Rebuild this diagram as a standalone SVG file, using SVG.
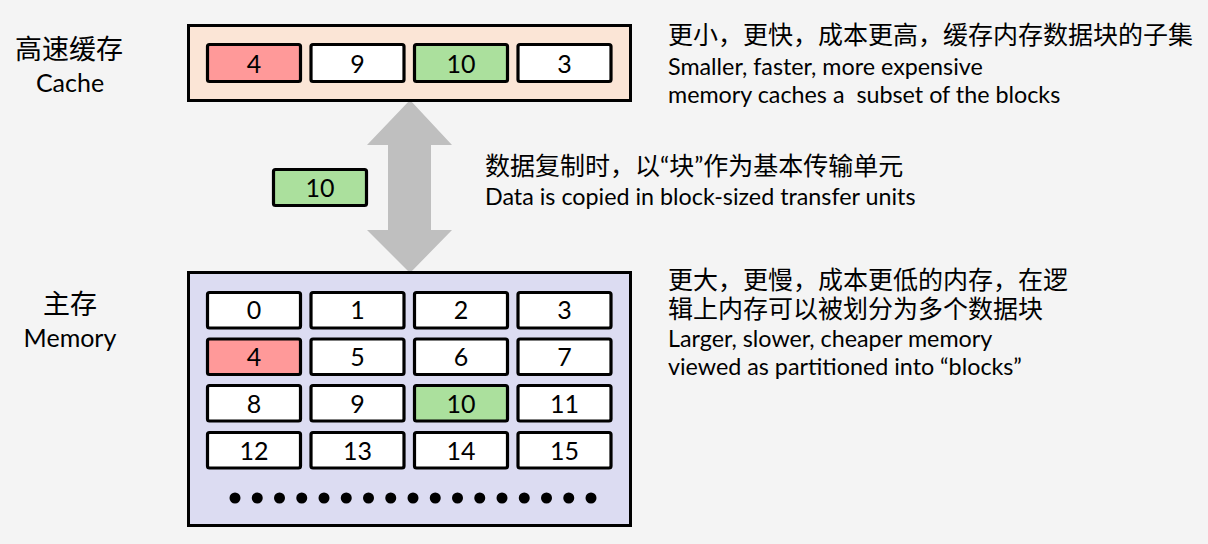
<svg xmlns="http://www.w3.org/2000/svg" width="1208" height="544" viewBox="0 0 1208 544">
<style>
text{font-family:Lato,"Noto Sans CJK SC",sans-serif;fill:#000}
.box{stroke:#000;stroke-width:3}
.cell{stroke:#000;stroke-width:3.2;fill:#fff}
.red{fill:#ff9999}
.green{fill:#abe09d}
.num{font-size:25px;text-anchor:middle}
.cjk{font-size:25px}
.en{font-size:23.3px}
.lab{font-size:27px}
.labe{font-size:25px;text-anchor:middle}
</style>
<rect width="1208" height="544" fill="#f4f4f4"/>
<g id="connectors">
<polygon points="410,100 452,145 431,145 431,230 452,230 410,273 367,230 388,230 388,145 367,145" fill="#bfbfbf"/>
</g>
<g id="cache">
<rect class="box" x="188.5" y="25.5" width="442" height="75" fill="#fbe5d6"/>
<rect class="cell red" x="207.5" y="44.5" width="93" height="37" rx="2"/>
<text class="num" x="254" y="73">4</text>
<rect class="cell" x="311" y="44.5" width="93" height="37" rx="2"/>
<text class="num" x="357.5" y="73">9</text>
<rect class="cell green" x="414.5" y="44.5" width="93" height="37" rx="2"/>
<text class="num" x="461" y="73">10</text>
<rect class="cell" x="518" y="44.5" width="93" height="37" rx="2"/>
<text class="num" x="564.5" y="73">3</text>
</g>
<g id="cache-label">
<text class="lab" x="15" y="59">高速缓存</text>
<text class="labe" x="70" y="92">Cache</text>
</g>
<g id="transfer-block">
<rect class="cell green" x="273.5" y="169.5" width="93" height="36" rx="2"/>
<text class="num" x="320" y="197">10</text>
</g>
<g id="memory">
<rect class="box" x="188.5" y="272.5" width="442" height="253" fill="#dcdcf2"/>
<rect class="cell" x="207.5" y="292.5" width="93" height="35.5" rx="2"/>
<text class="num" x="254" y="319">0</text>
<rect class="cell" x="311" y="292.5" width="93" height="35.5" rx="2"/>
<text class="num" x="357.5" y="319">1</text>
<rect class="cell" x="414.5" y="292.5" width="93" height="35.5" rx="2"/>
<text class="num" x="461" y="319">2</text>
<rect class="cell" x="518" y="292.5" width="93" height="35.5" rx="2"/>
<text class="num" x="564.5" y="319">3</text>
<rect class="cell red" x="207.5" y="339" width="93" height="35.5" rx="2"/>
<text class="num" x="254" y="366">4</text>
<rect class="cell" x="311" y="339" width="93" height="35.5" rx="2"/>
<text class="num" x="357.5" y="366">5</text>
<rect class="cell" x="414.5" y="339" width="93" height="35.5" rx="2"/>
<text class="num" x="461" y="366">6</text>
<rect class="cell" x="518" y="339" width="93" height="35.5" rx="2"/>
<text class="num" x="564.5" y="366">7</text>
<rect class="cell" x="207.5" y="385.5" width="93" height="35.5" rx="2"/>
<text class="num" x="254" y="412.5">8</text>
<rect class="cell" x="311" y="385.5" width="93" height="35.5" rx="2"/>
<text class="num" x="357.5" y="412.5">9</text>
<rect class="cell green" x="414.5" y="385.5" width="93" height="35.5" rx="2"/>
<text class="num" x="461" y="412.5">10</text>
<rect class="cell" x="518" y="385.5" width="93" height="35.5" rx="2"/>
<text class="num" x="564.5" y="412.5">11</text>
<rect class="cell" x="207.5" y="432.5" width="93" height="35.5" rx="2"/>
<text class="num" x="254" y="459.5">12</text>
<rect class="cell" x="311" y="432.5" width="93" height="35.5" rx="2"/>
<text class="num" x="357.5" y="459.5">13</text>
<rect class="cell" x="414.5" y="432.5" width="93" height="35.5" rx="2"/>
<text class="num" x="461" y="459.5">14</text>
<rect class="cell" x="518" y="432.5" width="93" height="35.5" rx="2"/>
<text class="num" x="564.5" y="459.5">15</text>
<g fill="#000">
<circle cx="235" cy="498" r="5.5"/><circle cx="257.25" cy="498" r="5.5"/><circle cx="279.5" cy="498" r="5.5"/><circle cx="301.75" cy="498" r="5.5"/><circle cx="324" cy="498" r="5.5"/><circle cx="346.25" cy="498" r="5.5"/><circle cx="368.5" cy="498" r="5.5"/><circle cx="390.75" cy="498" r="5.5"/><circle cx="413" cy="498" r="5.5"/><circle cx="435.25" cy="498" r="5.5"/><circle cx="457.5" cy="498" r="5.5"/><circle cx="479.75" cy="498" r="5.5"/><circle cx="502" cy="498" r="5.5"/><circle cx="524.25" cy="498" r="5.5"/><circle cx="546.5" cy="498" r="5.5"/><circle cx="568.75" cy="498" r="5.5"/><circle cx="591" cy="498" r="5.5"/>
</g>
</g>
<g id="memory-label">
<text class="lab" x="43" y="314">主存</text>
<text class="labe" x="70" y="347">Memory</text>
</g>
<g id="cache-desc">
<text class="cjk" x="668" y="44">更小，更快，成本更高，缓存内存数据块的子集</text>
<text class="en" x="668" y="75">Smaller, faster, more expensive</text>
<text class="en" x="668" y="103" xml:space="preserve">memory caches a  subset of the blocks</text>
</g>
<g id="transfer-desc">
<text class="cjk" x="485" y="175">数据复制时，以“块”作为基本传输单元</text>
<text class="en" x="485" y="205">Data is copied in block-sized transfer units</text>
</g>
<g id="memory-desc">
<text class="cjk" x="668" y="289">更大，更慢，成本更低的内存，在逻</text>
<text class="cjk" x="668" y="318">辑上内存可以被划分为多个数据块</text>
<text class="en" x="668" y="347">Larger, slower, cheaper memory</text>
<text class="en" x="668" y="375">viewed as partitioned into “blocks”</text>
</g>
</svg>
